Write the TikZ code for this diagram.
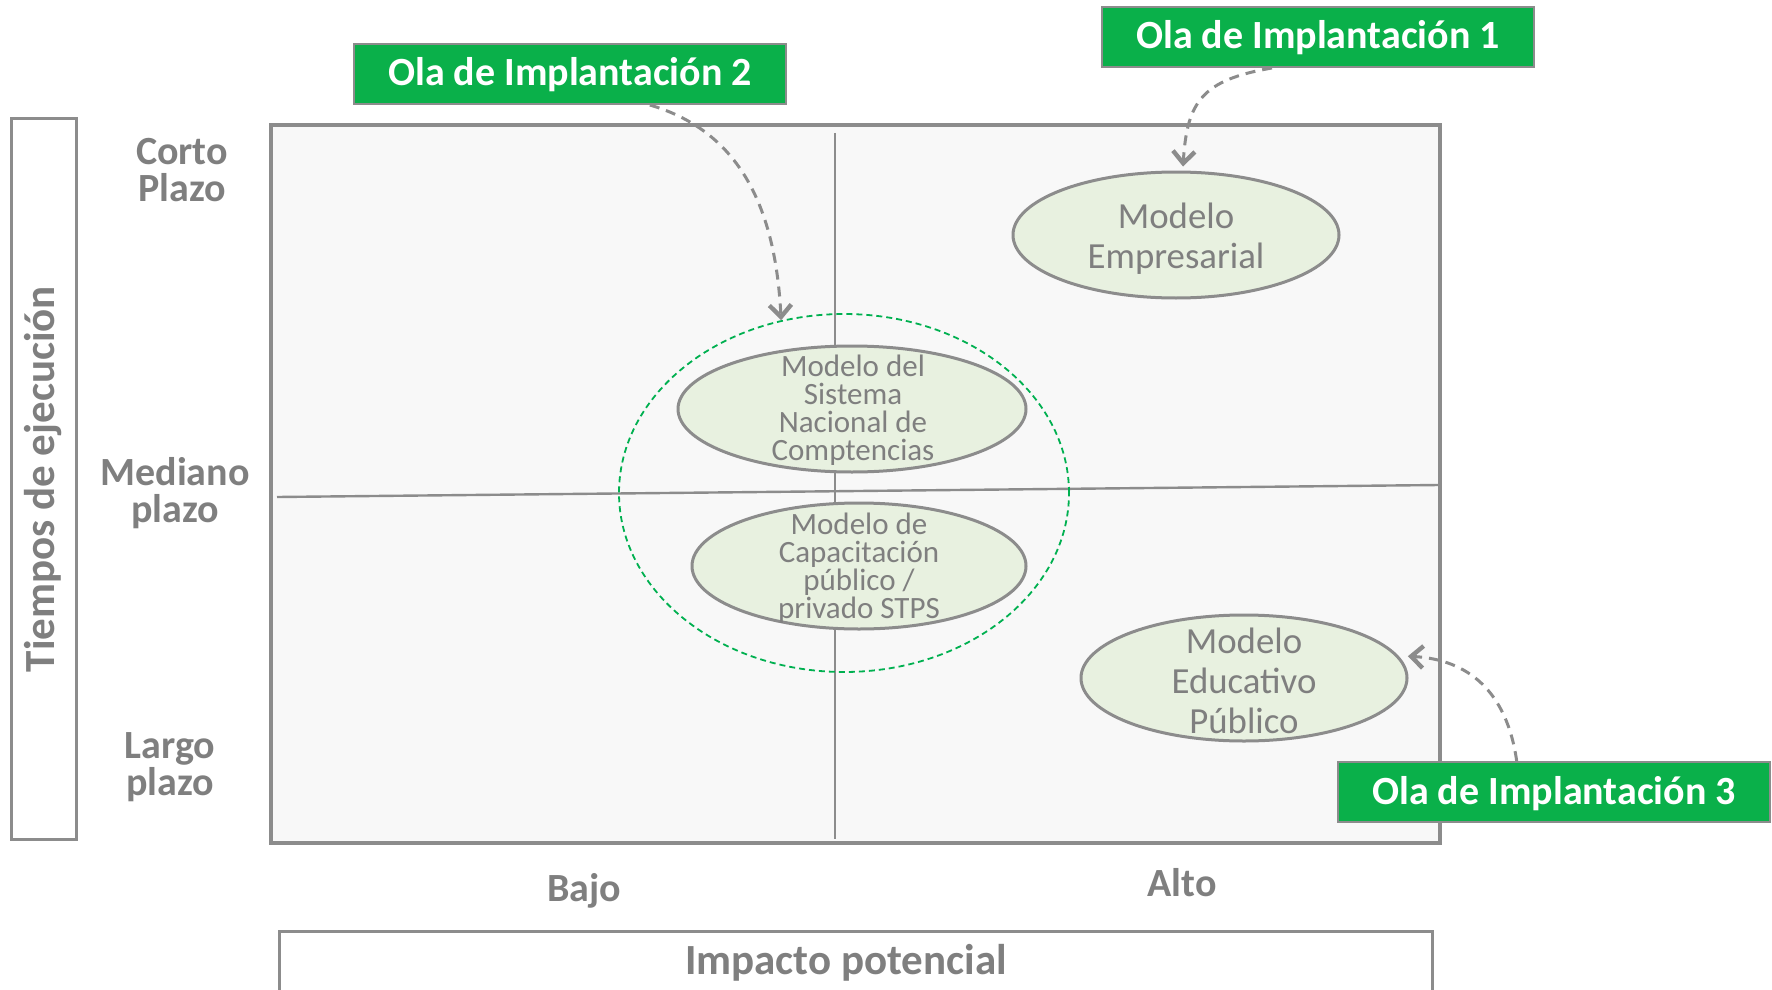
\documentclass[tikz,border=0pt]{standalone}
\usepackage{fontspec}
\setmainfont{Carlito}
\usetikzlibrary{shapes.geometric,arrows.meta,calc}
\definecolor{gline}{HTML}{8C8C8C}
\definecolor{gtext}{HTML}{7F7F7F}
\definecolor{olagreen}{HTML}{0AB04A}
\definecolor{ellfill}{HTML}{E8F1E0}
\definecolor{panelfill}{HTML}{F8F8F8}
\definecolor{dgreen}{HTML}{00B050}
\begin{document}
\begin{tikzpicture}[x=0.5pt,y=-0.5pt,
  olabox/.style={draw=gline,line width=1pt,fill=olagreen,text=white,
    font=\fontsize{20}{24}\selectfont\bfseries,minimum width=216pt,minimum height=30pt,inner sep=0pt,
    text height=16pt,text depth=4pt},
  axlabel/.style={text=gtext,font=\fontsize{20}{18.5}\selectfont\bfseries,align=center,inner sep=0pt},
  modell/.style={draw=gline,line width=1.5pt,fill=ellfill,ellipse,inner sep=0pt},
  bigtxt/.style={text=gtext,font=\fontsize{18.4}{20}\selectfont,align=center,inner sep=0pt},
  smalltxt/.style={text=gtext,font=\fontsize{15.5}{14}\selectfont,align=center,inner sep=0pt},
  olaarrow/.style={draw=gline,line width=1.5pt,dash pattern=on 5pt off 3.5pt,
    -{Straight Barb[length=6pt,width=11pt,line width=2.2pt]}},
  gridline/.style={draw=gline,line width=1.2pt}
]
\clip (0,0) rectangle (1772,990);
\useasboundingbox (0,0) rectangle (1772,990);

% main panel
\node (panel) [draw=gline,line width=2pt,fill=panelfill,minimum width=584.5pt,minimum height=359pt,inner sep=0pt] at (855.5,484) {};

% axis side box
\node (tbox) [draw=gline,line width=1.5pt,fill=white,minimum width=32.5pt,minimum height=360pt,inner sep=0pt] at (43.5,479) {};
\node (ttxt) [axlabel,rotate=90,font=\fontsize{21.5}{24}\selectfont\bfseries] at (tbox.center) {Tiempos de ejecución};

% row labels
\node (corto) [axlabel] at (182,170) {Corto\\Plazo};
\node (mediano) [axlabel] at (175,493) {Mediano\\plazo};
\node (largo) [axlabel] at (170,767) {Largo\\plazo};

% column labels
\node (bajo) [axlabel] at (584,891) {Bajo};
\node (alto) [axlabel] at (1182,883) {Alto};

% impact box
\node (impacto) [draw=gline,line width=1.5pt,fill=white,minimum width=576.5pt,minimum height=34.5pt,inner sep=0pt] at (855.5,965.5) {};
\node (imptxt) [axlabel,font=\fontsize{21.5}{24}\selectfont\bfseries] at (846,963) {Impacto potencial};

% grid lines
\coordinate (vtop) at (835,133);
\coordinate (vbot) at (835,839);
\coordinate (hl) at (277,497);
\coordinate (hr) at (1439,485);
\draw[gridline] (vtop) -- (vbot);
\draw[gridline] (hl) -- (hr);

% wave 2 grouping
\node (wave2) [ellipse,draw=dgreen,line width=0.9pt,dash pattern=on 3pt off 2pt,minimum width=225pt,minimum height=179pt,inner sep=0pt] at (844,493) {};

% models
\node (emp) [modell,minimum width=163pt,minimum height=63pt] at (1176,235) {};
\node (emptxt) [bigtxt] at (1176,239) {Modelo\\Empresarial};

\node (sis) [modell,minimum width=174pt,minimum height=63pt] at (852,409) {};
\node (sistxt) [smalltxt] at (853,410) {Modelo del\\Sistema\\Nacional de\\Comptencias};

\node (cap) [modell,minimum width=167pt,minimum height=63pt] at (859,566) {};
\node (captxt) [smalltxt] at (859,568) {Modelo de\\Capacitación\\público /\\privado STPS};

\node (edu) [modell,minimum width=163pt,minimum height=63pt] at (1244,678) {};
\node (edutxt) [bigtxt] at (1244,681) {Modelo\\Educativo\\Público};

% wave labels
\node (ola1) [olabox] at (1318,37) {Ola de Implantación 1};
\node (ola2) [olabox] at (570,74) {Ola de Implantación 2};
\node (ola3) [olabox] at (1554,792) {Ola de Implantación 3};

% arrows
\draw[olaarrow] ($(ola1.south west)!0.394!(ola1.south east)$)
  .. controls +(-70,12) and +(4,-65) .. ($(emp.north)+(7,-4)$);
\draw[olaarrow] ($(ola2.south west)!0.684!(ola2.south east)$)
  .. controls +(85,25) and +(-6,-120) .. (wave2.110);
\draw[olaarrow] ($(ola3.north west)!0.414!(ola3.north east)$)
  .. controls +(-10,-70) and +(60,3) .. ($(edu.8)+(9,0)$);
\end{tikzpicture}
\end{document}
